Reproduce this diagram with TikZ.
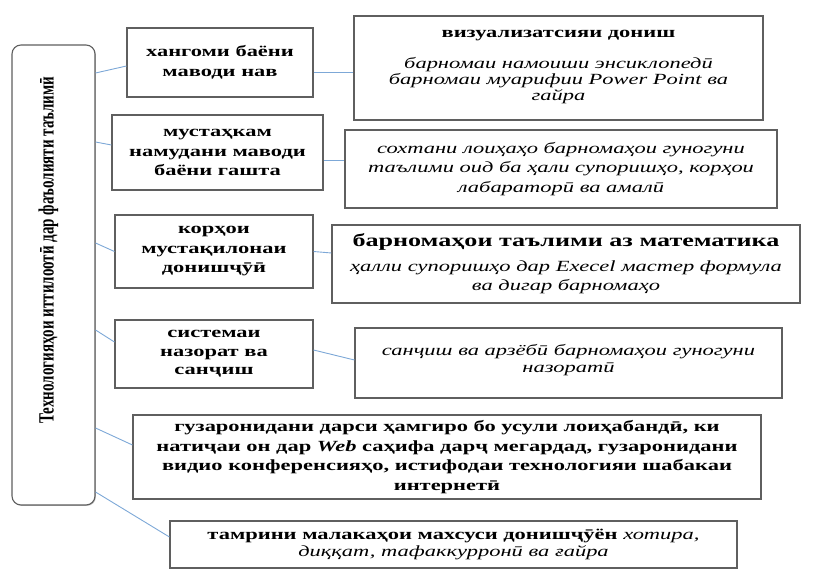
\documentclass[tikz,border=0pt]{standalone}
\usepackage{fontspec}
\setmainfont[FakeStretch=1.45]{Liberation Serif}
\newfontfamily\techfont{Liberation Serif}
\usepackage{xcolor}
\usetikzlibrary{shadows}
\definecolor{linkblue}{RGB}{125,168,215}
\definecolor{boxgray}{RGB}{95,95,95}
\newcommand\ital[1]{{\mdseries\itshape #1}}
\newcommand\boxfont{\fontsize{15.5}{19.5}\selectfont\bfseries\setlength\lineskiplimit{-20pt}}
\tikzset{
box/.style={
  rectangle,
  draw=boxgray,
  line width=1.1pt,
  fill=white,
  drop shadow={shadow xshift=0.9pt,shadow yshift=-0.9pt,fill=black!40,opacity=.6},
  align=center,
  inner sep=2pt,
  font=\boxfont
},
techbox/.style={
  box,
  rounded corners=9pt,
  rotate=90,
  font=\techfont\fontsize{15}{18}\selectfont\bfseries
},
link/.style={draw=linkblue, line width=0.9pt},
}

\begin{document}
\begin{tikzpicture}[x=1pt,y=-1pt]
\useasboundingbox (0,0) rectangle (815,583);
% the main box
\node[techbox, minimum width=460pt, minimum height=83pt] (tech) at (53.5,275)
  {\hspace*{50pt}\raisebox{0pt}[0pt][0pt]{\scalebox{1}[1.45]{Технологияҳои иттилоотӣ дар фаъолияти таълимӣ}}};
% the boxes
\node[box, minimum width=186pt, minimum height=69pt] (b1) at (220,62.5)
  {хангоми баёни\\ маводи нав};
\node[box, minimum width=409pt, minimum height=104pt, text depth=6pt] (b2) at (558.5,68)
  {визуализатсияи дониш\\[11.5pt]
   \ital{барномаи намоиши энсиклопедӣ}\\[-3.5pt]
   \ital{барномаи муарифии Power Point ва}\\[-3.5pt]
   \ital{гайра}};
\node[box, minimum width=211pt, minimum height=75pt] (b3) at (217.5,152.5)
  {мустаҳкам\\ намудани маводи\\ баёни гашта};
\node[box, minimum width=432pt, minimum height=78pt] (b4) at (561,169)
  {\ital{сохтани лоиҳаҳо барномаҳои гуногуни}\\
   \ital{таълими оид ба ҳали супоришҳо, корҳои}\\
   \ital{лабараторӣ ва амалӣ}};
\node[box, minimum width=198pt, minimum height=73pt] (b5) at (214,251.5)
  {корҳои\\ мустақилонаи\\ донишҷӯӣ};
\node[box, minimum width=468pt, minimum height=78pt] (b6) at (566,264)
  {{\fontsize{18}{20}\selectfont барномаҳои таълими аз математика}\\[5pt]
   \ital{ҳалли супоришҳо дар Execel мастер формула}\\
   \ital{ва дигар барномаҳо}};
\node[box, minimum width=198pt, minimum height=68pt] (b7) at (214,354)
  {системаи\\[-1pt] назорат ва\\[-1pt] санҷиш};
\node[box, minimum width=427pt, minimum height=70pt, text depth=10pt] (b8) at (568.5,363)
  {\ital{санҷиш ва арзёбӣ барномаҳои гуногуни}\\[-2.5pt]
   \ital{назоратӣ}};
\node[box, minimum width=628pt, minimum height=84pt] (b9) at (447,457)
  {гузаронидани дарси ҳамгиро бо усули лоиҳабандӣ, ки\\
   натиҷаи он дар \textit{Web} саҳифа дарҷ мегардад, гузаронидани\\
   видио конференсияҳо, истифодаи технологияи шабакаи\\
   интернетӣ};
\node[box, minimum width=567pt, minimum height=47pt] (b10) at (453.5,544.5)
  {тамрини малакаҳои махсуси донишҷӯён \ital{хотира,}\\[-3pt]
   \ital{диққат, тафаккурронӣ ва ғайра}};
% the links
\foreach \i/\y in {1/73,2/142,3/243,4/330,5/428,6/492}
  \coordinate (t\i) at (tech.south |- 0,\y);
\draw[link] (t1) -- ([yshift=-3.5pt]b1.west);
\draw[link] (t2) -- ([yshift=7.5pt]b3.west);
\draw[link] (t3) -- (b5.west);
\draw[link] (t4) -- ([yshift=12pt]b7.west);
\draw[link] (t5) -- ([yshift=12pt]b9.west);
\draw[link] (t6) -- ([yshift=7.5pt]b10.west);
\draw[link] ([yshift=-9.5pt]b1.east) -- ([yshift=-4pt]b2.west);
\draw[link] ([yshift=-7.5pt]b3.east) -- ([yshift=9pt]b4.west);
\draw[link] (b5.east) -- ([yshift=11pt]b6.west);
\draw[link] ([yshift=4pt]b7.east) -- ([yshift=3pt]b8.west);
\end{tikzpicture}
\end{document}
